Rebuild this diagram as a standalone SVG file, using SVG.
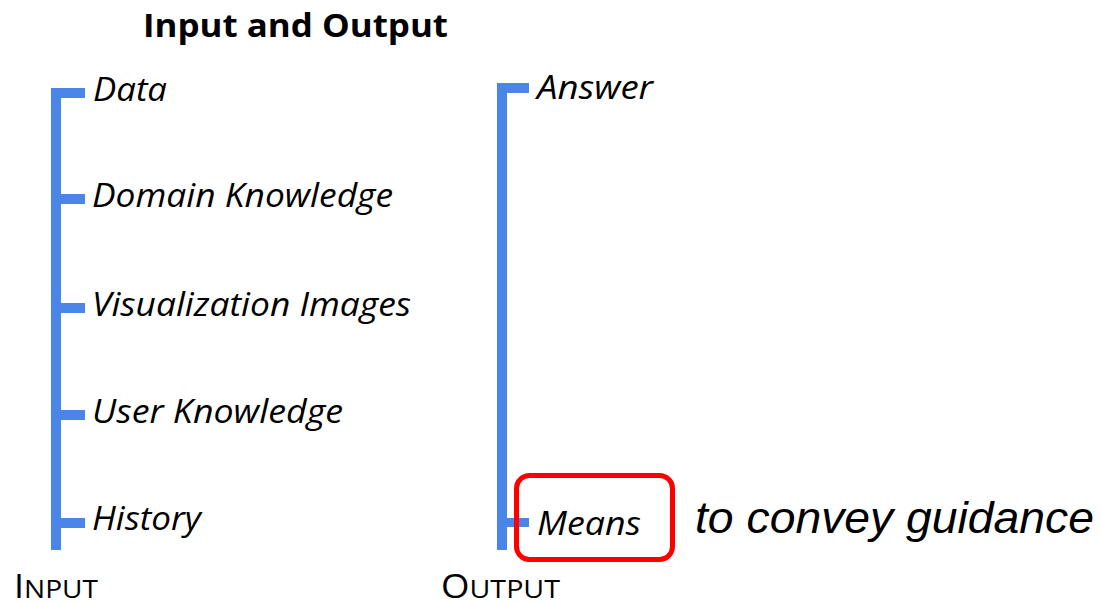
<svg xmlns="http://www.w3.org/2000/svg" width="1102" height="605" viewBox="0 0 1102 605">
<style>
.bar{fill:#4a86e8}
.item{font-family:"Open Sans","Noto Sans",sans-serif;font-style:italic;font-size:32px;fill:#000}
.cap{font-family:"Open Sans","Noto Sans",sans-serif;font-size:32px;fill:#000}
.title{font-family:"Open Sans","Noto Sans",sans-serif;font-weight:bold;font-size:33px;fill:#000}
.note{font-family:"Liberation Sans",Arial,sans-serif;font-style:italic;font-size:45px;fill:#000}
</style>
<rect width="1102" height="605" fill="#fff"/>
<g id="title"><text class="title" x="143" y="37" textLength="305" lengthAdjust="spacingAndGlyphs">Input and Output</text></g>
<g id="connectors">
<rect class="bar" x="51" y="88" width="10" height="462"/>
<rect class="bar" x="51" y="88" width="34" height="10"/>
<rect class="bar" x="51" y="194" width="34" height="10"/>
<rect class="bar" x="51" y="303" width="34" height="10"/>
<rect class="bar" x="51" y="410" width="34" height="10"/>
<rect class="bar" x="51" y="518" width="34" height="10"/>
<rect class="bar" x="497" y="83" width="10" height="467"/>
<rect class="bar" x="497" y="83" width="32" height="10"/>
<rect class="bar" x="497" y="518" width="32" height="9"/>
</g>
<g id="data"><text class="item" x="93" y="101" textLength="74" lengthAdjust="spacingAndGlyphs">Data</text></g>
<g id="domain-knowledge"><text class="item" x="92" y="207" textLength="301" lengthAdjust="spacingAndGlyphs">Domain Knowledge</text></g>
<g id="visualization-images"><text class="item" x="92" y="316" textLength="319" lengthAdjust="spacingAndGlyphs">Visualization Images</text></g>
<g id="user-knowledge"><text class="item" x="92" y="423" textLength="251" lengthAdjust="spacingAndGlyphs">User Knowledge</text></g>
<g id="history"><text class="item" x="92" y="530" textLength="109" lengthAdjust="spacingAndGlyphs">History</text></g>
<g id="answer"><text class="item" x="537" y="99" textLength="116" lengthAdjust="spacingAndGlyphs">Answer</text></g>
<g id="means">
<rect x="516.5" y="475.5" width="156" height="84" rx="13" fill="none" stroke="#ff0000" stroke-width="5"/>
<text class="item" x="537" y="535" textLength="104" lengthAdjust="spacingAndGlyphs">Means</text>
</g>
<g id="note"><text class="note" x="695" y="533" textLength="399" lengthAdjust="spacingAndGlyphs">to convey guidance</text></g>
<g id="input-label"><text class="cap" x="14" y="598" textLength="84" lengthAdjust="spacingAndGlyphs">I<tspan font-size="25">NPUT</tspan></text></g>
<g id="output-label"><text class="cap" x="441" y="598" textLength="119" lengthAdjust="spacingAndGlyphs">O<tspan font-size="25">UTPUT</tspan></text></g>
</svg>
